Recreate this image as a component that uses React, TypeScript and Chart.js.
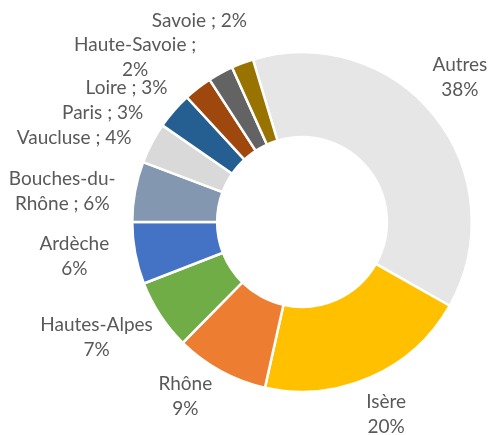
import React, { useEffect, useRef } from "react";
import { Chart, registerables } from "chart.js";

Chart.register(...registerables);

// ---- data ----
const categories = [
  "Autres",
  "Isère",
  "Rhône",
  "Hautes-Alpes",
  "Ardèche",
  "Bouches-du-Rhône",
  "Vaucluse",
  "Paris",
  "Loire",
  "Haute-Savoie",
  "Savoie",
];
const shares = [37.9, 20.3, 8.9, 6.7, 5.9, 5.75, 3.9, 3.5, 2.7, 2.4, 2.1];
const labelLines = [
  ["Autres", "38%"],
  ["Isère", "20%"],
  ["Rhône", "9%"],
  ["Hautes-Alpes", "7%"],
  ["Ardèche", "6%"],
  ["Bouches-du-", "Rhône ; 6%"],
  ["Vaucluse ; 4%"],
  ["Paris ; 3%"],
  ["Loire ; 3%"],
  ["Haute-Savoie ;", "2%"],
  ["Savoie ; 2%"],
];
const sliceColors = [
  "#E7E6E6",
  "#FFC000",
  "#ED7D31",
  "#70AD47",
  "#4472C4",
  "#8497B0",
  "#D9D9D9",
  "#255E91",
  "#9E480E",
  "#636363",
  "#997300",
];

// ---- label layout (angle nudge from slice middle in degrees, distance as fraction of outer radius) ----
const labelAngleNudge = [-3.9, 0.3, 5.1, 4.0, 2.1, -3.0, -7.4, -12.2, -14.7, -16.7, -6.4];
const labelRadiusFactor = [1.262, 1.238, 1.238, 1.388, 1.356, 1.424, 1.431, 1.34, 1.302, 1.381, 1.332];

const FONT = "19px Lato";
const LINE_H = 25;
const TEXT_COLOR = "#595959";

const labelPlugin = {
  id: "outerLabels",
  afterDatasetsDraw(chart: any) {
    const ctx = chart.ctx;
    const meta = chart.getDatasetMeta(0);
    ctx.save();
    ctx.font = FONT;
    ctx.fillStyle = TEXT_COLOR;
    ctx.textAlign = "center";
    ctx.textBaseline = "middle";
    meta.data.forEach((arc: any, i: number) => {
      const p = arc.getProps(["x", "y", "startAngle", "endAngle", "outerRadius"], true);
      const mid = (p.startAngle + p.endAngle) / 2 + (labelAngleNudge[i] * Math.PI) / 180;
      const r = p.outerRadius * labelRadiusFactor[i];
      const cx = p.x + Math.cos(mid) * r;
      const cy = p.y + Math.sin(mid) * r;
      const lines = labelLines[i];
      const top = cy - ((lines.length - 1) * LINE_H) / 2;
      lines.forEach((t, k) => ctx.fillText(t, cx, top + k * LINE_H));
    });
    ctx.restore();
  },
};

export default function App() {
  const ref = useRef<HTMLCanvasElement | null>(null);
  useEffect(() => {
    if (!ref.current) return;
    const chart = new Chart(ref.current, {
      type: "doughnut",
      data: {
        labels: categories,
        datasets: [
          {
            data: shares,
            backgroundColor: sliceColors,
            borderColor: "#FFFFFF",
            borderWidth: 2.5,
            hoverOffset: 0,
          },
        ],
      },
      options: {
        responsive: false,
        animation: false,
        devicePixelRatio: 1,
        rotation: -16.8,
        cutout: "50%",
        layout: { padding: { left: 131, right: 17, top: 51, bottom: 42 } },
        plugins: {
          legend: { display: false },
          tooltip: { enabled: false },
        },
      },
      plugins: [labelPlugin],
    });
    return () => chart.destroy();
  }, []);
  return (
    <div style={{ position: "absolute", left: 0, top: 0, width: 490, height: 435, background: "#fff" }}>
      <canvas ref={ref} width={490} height={435} style={{ display: "block" }} />
    </div>
  );
}
